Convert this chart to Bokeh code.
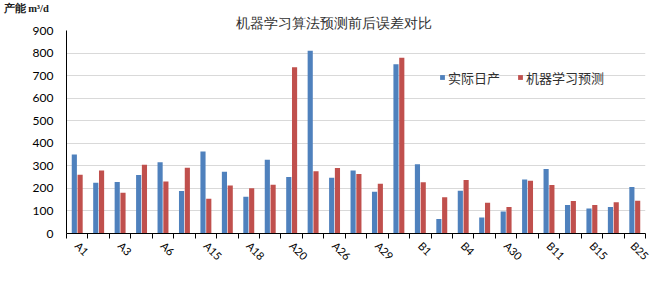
import math
from bokeh.plotting import figure
from bokeh.models import FixedTicker, Legend, LegendItem, Range1d, ColumnDataSource, Title
from bokeh.transform import dodge
from bokeh.embed import file_html
from bokeh.resources import INLINE

# ---------------- data ----------------
tick_labels = ["A1", "A3", "A6", "A15", "A18", "A20", "A26", "A29",
               "B1", "B4", "A30", "B11", "B15", "B25"]
actual = [350, 225, 228, 259, 316, 188, 363, 274, 163, 327, 250, 810, 247, 279,
          185, 750, 307, 64, 190, 71, 98, 239, 286, 126, 111, 117, 206]
predicted = [261, 279, 181, 305, 230, 292, 154, 213, 201, 216, 737, 276, 290, 264,
             221, 779, 227, 161, 237, 136, 117, 234, 215, 144, 126, 138, 145]
y_ticks = [0, 100, 200, 300, 400, 500, 600, 700, 800, 900]
series_names = ["实际日产", "机器学习预测"]
title_text = "机器学习算法预测前后误差对比"
y_unit_text = "产能 m³/d"

# ---------------- layout constants (canvas pixels) ----------------
W, H = 651, 269
LEFT, RIGHT, TOP, BOTTOM = 66, 645, 30, 233
n = len(actual)
y_max = y_ticks[-1]

src = ColumnDataSource(dict(x=list(range(n)), actual=actual, predicted=predicted))

BLUE = "#4F81BD"
RED = "#C0504D"

p = figure(width=W, height=H, output_backend="svg", toolbar_location=None,
           x_range=Range1d(-0.5, n - 0.5), y_range=Range1d(0, y_max),
           min_border_left=LEFT, min_border_right=W - RIGHT, min_border_top=TOP,
           min_border_bottom=H - BOTTOM, background_fill_color="white",
           border_fill_color="white")
p.outline_line_color = None

r1 = p.vbar(x=dodge("x", -0.135), top="actual", width=0.24, source=src,
            fill_color=BLUE, line_color=None)
r2 = p.vbar(x=dodge("x", 0.135), top="predicted", width=0.24, source=src,
            fill_color=RED, line_color=None)

# grid
p.xgrid.visible = False
p.ygrid.grid_line_color = "#D9D9D9"
p.ygrid.grid_line_width = 1

# x axis: labels on every other category, tick marks between categories
label_pos = [2 * i for i in range(len(tick_labels))]
xa = p.xaxis[0]
xa.ticker = FixedTicker(ticks=label_pos, minor_ticks=[i - 0.5 for i in range(n + 1)])
xa.major_label_overrides = {pos: lab for pos, lab in zip(label_pos, tick_labels)}
xa.major_label_orientation = -math.pi / 4
xa.major_tick_line_color = None
xa.major_tick_out = 0
xa.major_tick_in = 0
xa.minor_tick_line_color = "black"
xa.minor_tick_out = 5
xa.minor_tick_in = 0
xa.axis_line_color = "black"
xa.major_label_standoff = 5
xa.major_label_text_font = "Lato"
xa.major_label_text_font_size = "11px"
xa.major_label_text_color = "#000000"

# y axis
ya = p.yaxis[0]
ya.ticker = FixedTicker(ticks=y_ticks)
ya.major_tick_line_color = None
ya.minor_tick_line_color = None
ya.major_tick_out = 0
ya.major_tick_in = 0
ya.axis_line_color = "black"
ya.major_label_standoff = 13
ya.major_label_text_font = "Lato"
ya.major_label_text_font_size = "12px"
ya.major_label_text_color = "#000000"

# unit label (outermost title row)
p.title.text = y_unit_text
p.title.align = "left"
p.title.offset = 3 - LEFT
p.title.standoff = 0
p.title.text_font = "Liberation Serif"
p.title.text_font_size = "10.5px"
p.title.text_font_style = "bold"
p.title.text_color = "#202020"

# main chart title (row nearest the frame)
main_title = Title(text=title_text, align="left", offset=235 - LEFT, standoff=0,
                   text_font="Liberation Serif", text_font_size="14px",
                   text_font_style="normal", text_color="#303030")
p.add_layout(main_title, "above")

# legend
legend = Legend(items=[LegendItem(label=series_names[0], renderers=[r1]),
                       LegendItem(label=series_names[1], renderers=[r2])],
                orientation="horizontal", location=(439 - LEFT, BOTTOM - 77 - 10))
legend.border_line_color = None
legend.background_fill_alpha = 0
legend.padding = 0
legend.margin = 0
legend.spacing = 17
legend.glyph_width = 6
legend.glyph_height = 6
legend.label_height = 20
legend.label_standoff = 3
legend.label_text_font = "Noto Sans CJK SC"
legend.label_text_font_size = "13px"
legend.label_text_color = "#303030"
p.add_layout(legend)

open("out.html", "w").write(file_html(p, INLINE))
